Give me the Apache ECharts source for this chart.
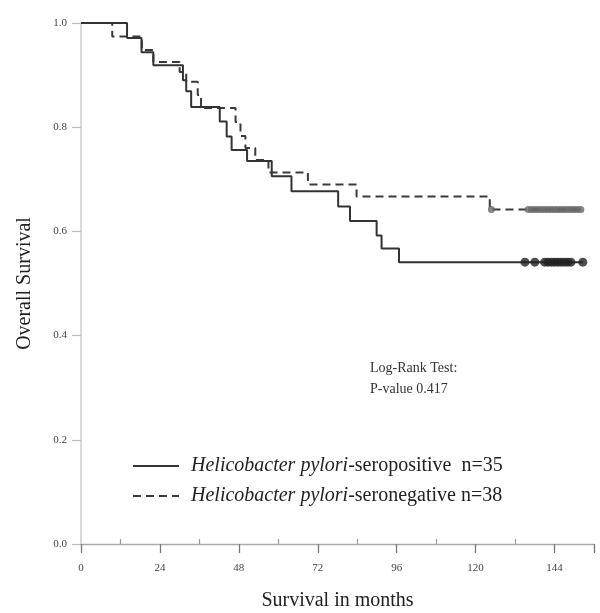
<!DOCTYPE html>
<html><head><meta charset="utf-8">
<script src="https://cdn.jsdelivr.net/npm/echarts@6/dist/echarts.min.js"></script>
<style>html,body{margin:0;padding:0;background:#fff}#c{width:600px;height:613px}</style>
</head><body><div id="c"></div>
<script>
// Kaplan-Meier step points [month, survival]
var positiveSteps = [[0,1.0],[14,0.971],[18.4,0.944],[22,0.919],[31,0.89],[32,0.869],[33.5,0.839],[42.2,0.811],[44.3,0.782],[45.8,0.756],[50.5,0.735],[58,0.706],[64,0.677],[78.2,0.648],[81.8,0.62],[89.9,0.592],[91.4,0.567],[96.7,0.541],[152.6,0.541]];
var negativeSteps = [[0,1.0],[9.5,0.974],[18.5,0.948],[22,0.925],[30,0.906],[32,0.887],[35.5,0.862],[36.5,0.837],[47,0.81],[48.5,0.783],[50,0.76],[53,0.737],[57,0.713],[69,0.69],[83.8,0.667],[124.3,0.642],[152,0.642]];
// censored observation times
var positiveCensored = [135,138,141,142,143,144,145,146,147,148,149,152.6];
var negativeCensored = [124.8,136,137,138,139,140,141,142,143,144,145,146,147,148,149,150,151,152];
var positiveLevel = 0.541, negativeLevel = 0.642;
var xTicks = [0,24,48,72,96,120,144];
var yTicks = [0,0.2,0.4,0.6,0.8,1.0];
var posName = 'Helicobacter pylori-seropositive  n=35';
var negName = 'Helicobacter pylori-seronegative n=38';

var serif = 'Liberation Serif';
var chart = echarts.init(document.getElementById('c'));
chart.setOption({
  animation:false,
  grid:{left:81,right:6,top:23,bottom:69,outerBoundsMode:'none',containLabel:false},
  xAxis:{type:'value',min:0,max:156,interval:24,
    name:'Survival in months',nameLocation:'middle',nameGap:47,
    nameTextStyle:{fontFamily:serif,fontSize:20,color:'#222'},
    axisLine:{lineStyle:{color:'#aaa',width:1.3}},
    axisTick:{show:true,length:9,lineStyle:{color:'#777',width:1.3}},
    minorTick:{show:true,splitNumber:2,length:-5,lineStyle:{color:'#999',width:1.2}},
    splitLine:{show:false},
    axisLabel:{margin:19,fontFamily:serif,fontSize:11,color:'#444',
      formatter:function(v){return xTicks.indexOf(v)>=0?String(v):'';}}},
  yAxis:{type:'value',min:0,max:1,interval:0.2,
    name:'Overall Survival',nameLocation:'middle',nameGap:46,
    nameTextStyle:{fontFamily:serif,fontSize:20,color:'#222'},
    axisLine:{show:true,lineStyle:{color:'#ccc',width:1.5}},
    axisTick:{show:true,length:9,lineStyle:{color:'#bbb',width:1.2}},
    splitLine:{show:false},
    axisLabel:{margin:14,fontFamily:serif,fontSize:11,color:'#444',
      formatter:function(v){return yTicks.indexOf(+v.toFixed(1))>=0?v.toFixed(1):'';}}},
  legend:{left:132,top:456,padding:0,orient:'vertical',itemGap:10,itemWidth:46,itemHeight:14,
    itemStyle:{opacity:0},
    data:[{name:posName},{name:negName}],
    formatter:function(n){
      var parts=n.split('Helicobacter pylori');
      return '{i|Helicobacter pylori}{n|'+parts[1]+'}';
    },
    textStyle:{rich:{i:{fontFamily:serif,fontStyle:'italic',fontSize:20,color:'#222',padding:[0,0,0,7]},
      n:{fontFamily:serif,fontSize:20,color:'#222'}}}},
  graphic:[{type:'text',left:370,top:358,style:{text:'Log-Rank Test:\nP-value 0.417',
    font:'14px "Liberation Serif"',fill:'#333',lineHeight:21}}],
  series:[
    {name:posName,type:'line',step:'end',data:positiveSteps,showSymbol:false,symbol:'none',
      lineStyle:{color:'#333',width:2},itemStyle:{color:'#333'},z:3},
    {name:negName,type:'line',step:'end',data:negativeSteps,showSymbol:false,symbol:'none',
      lineStyle:{color:'#3a3a3a',width:2,type:[8,5]},itemStyle:{color:'#3a3a3a'},z:2},
    {type:'scatter',symbol:'circle',symbolSize:9,itemStyle:{color:'#222'},z:4,
      data:positiveCensored.map(function(t){return [t,positiveLevel];})},
    {type:'scatter',symbol:'circle',symbolSize:7,itemStyle:{color:'#666'},z:4,
      data:negativeCensored.map(function(t){return [t,negativeLevel];})}
  ]
});
</script></body></html>
